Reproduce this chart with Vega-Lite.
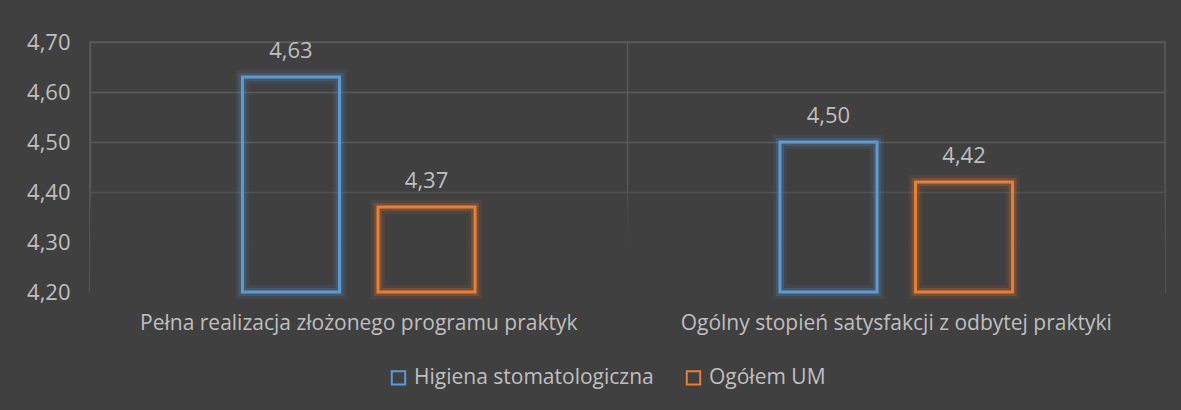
{
  "$schema": "https://vega.github.io/schema/vega-lite/v6.json",
  "autosize": {"type": "none"},
  "width": 1075,
  "height": 250,
  "padding": {"left": 90, "top": 42, "right": 16, "bottom": 118},
  "background": "#404040",
  "config": {
    "locale": {"number": {"decimal": ",", "thousands": " ", "grouping": [3], "currency": ["", " zł"]}},
    "font": "Open Sans",
    "view": {"stroke": "#5a5a5a", "strokeWidth": 1.5},
    "axis": {"labelColor": "#bfbfbf", "gridColor": "#5a5a5a", "gridWidth": 1.5, "domain": false, "ticks": false, "title": null}
  },
  "data": {"values": [
    {"kategoria": "Pełna realizacja złożonego programu praktyk", "grupa": "Higiena stomatologiczna", "wartosc": 4.63},
    {"kategoria": "Pełna realizacja złożonego programu praktyk", "grupa": "Ogółem UM", "wartosc": 4.37},
    {"kategoria": "Ogólny stopień satysfakcji z odbytej praktyki", "grupa": "Higiena stomatologiczna", "wartosc": 4.50},
    {"kategoria": "Ogólny stopień satysfakcji z odbytej praktyki", "grupa": "Ogółem UM", "wartosc": 4.42}
  ]},
  "encoding": {
    "x": {"field": "kategoria", "type": "nominal", "sort": null,
      "scale": {"paddingInner": 0, "paddingOuter": 0},
      "axis": {"labelAngle": 0, "labelFontSize": 21, "labelPadding": 20, "grid": true, "bandPosition": 0, "labelLimit": 600}},
    "xOffset": {"field": "grupa", "type": "nominal", "sort": null,
      "scale": {"domain": ["_l", "Higiena stomatologiczna", "Ogółem UM", "_r"], "paddingInner": 0.284, "paddingOuter": 0.1247}}
  },
  "layer": [
    {
      "mark": {"type": "rect", "fill": {"gradient": "linear", "x1": 0, "y1": 0, "x2": 0, "y2": 1,
        "stops": [{"offset": 0, "color": "rgba(64,64,64,0)"}, {"offset": 0.95, "color": "rgba(64,64,64,1)"}, {"offset": 1, "color": "rgba(64,64,64,1)"}]}},
      "encoding": {
        "x": {"value": 0}, "x2": {"value": 1075},
        "xOffset": null,
        "y": {"datum": 4.42, "type": "quantitative"},
        "y2": {"datum": 4.195}
      }
    },
    {
      "mark": {"type": "bar", "filled": false, "strokeWidth": 14, "strokeOpacity": 0.09},
      "encoding": {
        "y": {"field": "wartosc", "type": "quantitative"},
        "y2": {"datum": 4.2},
        "color": {"field": "grupa", "type": "nominal", "sort": null}
      }
    },
    {
      "mark": {"type": "bar", "filled": false, "strokeWidth": 8, "strokeOpacity": 0.2},
      "encoding": {
        "y": {"field": "wartosc", "type": "quantitative"},
        "y2": {"datum": 4.2},
        "color": {"field": "grupa", "type": "nominal", "sort": null}
      }
    },
    {
      "mark": {"type": "bar", "filled": false, "strokeWidth": 3},
      "encoding": {
        "y": {"field": "wartosc", "type": "quantitative",
          "scale": {"domain": [4.2, 4.7], "zero": false, "nice": false},
          "axis": {"values": [4.2, 4.3, 4.4, 4.5, 4.6, 4.7], "format": ".2f", "labelFontSize": 22, "labelPadding": 20, "grid": true}},
        "y2": {"datum": 4.2},
        "color": {"field": "grupa", "type": "nominal", "sort": null,
          "scale": {"domain": ["Higiena stomatologiczna", "Ogółem UM"], "range": ["#5b9bd5", "#ed7d31"]},
          "legend": {"orient": "none", "legendX": 298, "legendY": 325, "direction": "horizontal", "title": null, "symbolType": "square", "symbolSize": 180,
            "symbolStrokeWidth": 2, "symbolFillColor": "transparent", "labelColor": "#bfbfbf", "labelFontSize": 21, "labelLimit": 500,
            "columnPadding": 28, "labelOffset": 5}}
      }
    },
    {
      "mark": {"type": "text", "baseline": "middle", "dy": -26, "fontSize": 22, "color": "#bfbfbf"},
      "encoding": {
        "y": {"field": "wartosc", "type": "quantitative"},
        "text": {"field": "wartosc", "type": "quantitative", "format": ".2f"}
      }
    }
  ]
}
